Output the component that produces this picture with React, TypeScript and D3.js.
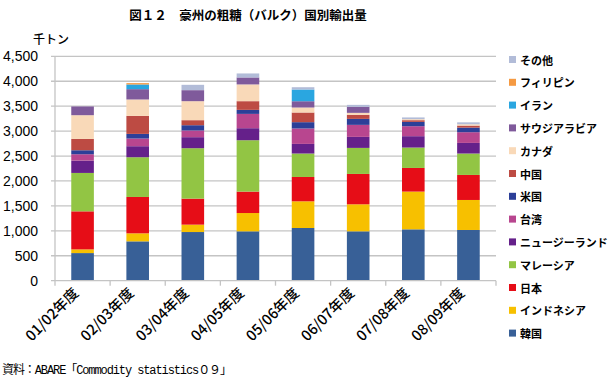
import React, { useRef, useEffect } from 'react';
import * as d3 from 'd3';

const categories = ['01/02年度', '02/03年度', '03/04年度', '04/05年度', '05/06年度', '06/07年度', '07/08年度', '08/09年度'];

// series, bottom to top
const seriesNames = ['韓国', 'インドネシア', '日本', 'マレーシア', 'ニュージーランド', '台湾', '米国', '中国', 'カナダ', 'サウジアラビア', 'イラン', 'フィリピン', 'その他'];
const korea = [554, 789, 976, 990, 1057, 990, 1030, 1017];
const indonesia = [74, 161, 148, 367, 535, 542, 757, 602];
const japan = [763, 729, 522, 430, 488, 609, 474, 502];
const malaysia = [770, 797, 1011, 1030, 470, 522, 409, 429];
const newZealand = [248, 221, 221, 241, 193, 221, 228, 213];
const taiwan = [127, 154, 134, 287, 309, 241, 200, 215];
const usa = [80, 93, 106, 81, 127, 120, 87, 92];
const china = [227, 361, 101, 174, 194, 81, 34, 40];
const canada = [476, 329, 381, 336, 100, 40, 20, 26];
const saudi = [175, 207, 221, 140, 126, 120, 0, 0];
const iran = [0, 94, 0, 0, 235, 0, 0, 0];
const philippines = [0, 27, 0, 0, 0, 0, 0, 0];
const others = [0, 0, 107, 80, 46, 40, 35, 40];

const seriesValues = [korea, indonesia, japan, malaysia, newZealand, taiwan, usa, china, canada, saudi, iran, philippines, others];
const colors = ['#386097', '#F7C000', '#E60D17', '#92C544', '#65208A', '#B8468F', '#2C3F98', '#BD4B43', '#F9D9B8', '#7F5A9B', '#2AA6E0', '#F59A42', '#B2BCD8'];

const yTicks = [0, 500, 1000, 1500, 2000, 2500, 3000, 3500, 4000, 4500];

const App = () => {
  const ref = useRef(null);

  useEffect(() => {
    const svg = d3.select(ref.current);
    svg.selectAll('*').remove();

    const left = 55, right = 496, top = 56.3, bottom = 280.7;

    const x = d3.scaleBand().domain(categories).range([left, right]).paddingInner(0.59).paddingOuter(0.295);
    const y = d3.scaleLinear().domain([0, 4500]).range([bottom, top]);

    const table = categories.map((c, i) => {
      const row: any = { cat: c };
      seriesNames.forEach((s, j) => { row[s] = seriesValues[j][i]; });
      return row;
    });
    const stacked = d3.stack().keys(seriesNames)(table);

    // title
    svg.append('text')
      .attr('x', 248).attr('y', 20)
      .attr('text-anchor', 'middle')
      .style('font-family', "'Noto Sans CJK JP'")
      .style('font-weight', 'bold')
      .style('font-size', '12.5px')
      .text('図１２　豪州の粗糖（バルク）国別輸出量');

    svg.append('text')
      .attr('x', 33).attr('y', 44)
      .style('font-family', "'Noto Sans CJK JP'")
      .style('font-size', '12px')
      .style('font-weight', 500)
      .text('千トン');

    // grid
    svg.append('g').selectAll('line').data(yTicks.slice(1)).enter().append('line')
      .attr('x1', left - 4).attr('x2', right)
      .attr('y1', d => y(d)).attr('y2', d => y(d))
      .style('stroke', '#C4C4C4').style('stroke-width', 1.3);

    svg.append('g').selectAll('text').data(yTicks).enter().append('text')
      .attr('x', 38).attr('y', d => y(d) + 5)
      .attr('text-anchor', 'end')
      .style('font-family', "'Liberation Sans', Arial")
      .style('font-size', '14px')
      .text(d => d3.format(',')(d));

    // bars
    svg.append('g').selectAll('g').data(stacked).enter().append('g')
      .style('fill', (d, i) => colors[i])
      .selectAll('rect').data(d => d).enter().append('rect')
      .attr('x', d => x(d.data.cat))
      .attr('width', x.bandwidth())
      .attr('y', d => y(d[1]))
      .attr('height', d => y(d[0]) - y(d[1]));

    // axes
    svg.append('line').attr('x1', left).attr('x2', left).attr('y1', top).attr('y2', bottom)
      .style('stroke', '#C4C4C4').style('stroke-width', 1.3);
    svg.append('line').attr('x1', left - 4).attr('x2', right).attr('y1', bottom).attr('y2', bottom)
      .style('stroke', '#C4C4C4').style('stroke-width', 1.3);
    const step = x.step();
    svg.append('g').selectAll('line').data(d3.range(categories.length + 1)).enter().append('line')
      .attr('x1', i => left + i * step).attr('x2', i => left + i * step)
      .attr('y1', bottom).attr('y2', bottom + 5)
      .style('stroke', '#C4C4C4').style('stroke-width', 1.3);

    svg.append('g').selectAll('text').data(categories).enter().append('text')
      .attr('transform', d => `translate(${x(d) + x.bandwidth() / 2 - 3}, 294) rotate(-45)`)
      .attr('text-anchor', 'end')
      .style('font-family', "'Noto Sans CJK JP'")
      .style('font-size', '14.5px')
      .style('font-weight', 500)
      .text(d => d);

    // legend
    const legendNames = seriesNames.slice().reverse();
    const legendColors = colors.slice().reverse();
    const lg = svg.append('g').selectAll('g').data(legendNames).enter().append('g')
      .attr('transform', (d, i) => `translate(509, ${60 + i * 22.8})`);
    lg.append('rect').attr('x', 0).attr('y', -4).attr('width', 7).attr('height', 7)
      .style('fill', (d, i) => legendColors[i]);
    lg.append('text').attr('x', 11).attr('y', 4.5)
      .style('font-family', "'Noto Sans CJK JP'")
      .style('font-size', '11px')
      .style('font-weight', 'bold')
      .text(d => d);

    // source
    svg.append('text')
      .attr('x', 2).attr('y', 374)
      .attr('textLength', 230)
      .style('font-family', "'Liberation Mono', 'Noto Sans CJK JP'")
      .style('font-size', '12px')
      .text('資料：ABARE「Commodity statistics０９」');
  }, []);

  return (
    <svg ref={ref} width={610} height={390}
      style={{ position: 'absolute', left: 0, top: 0, background: 'white' }}>
    </svg>
  );
};

export default App;
